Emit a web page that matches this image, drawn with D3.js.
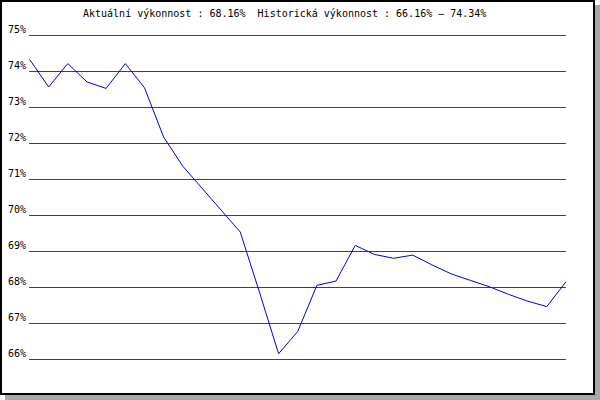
<!DOCTYPE html>
<html>
<head>
<meta charset="utf-8">
<script src="https://cdn.jsdelivr.net/npm/d3@7"></script>
<style>
  body { margin: 0; background: #fff; }
  text { font-family: "DejaVu Sans Mono", monospace; font-size: 10px; fill: #000; }
</style>
</head>
<body>
<div id="chart"></div>
<script>
// data
var periods = d3.range(1, 30);
var performance = [74.34, 73.57, 74.22, 73.71, 73.53, 74.22, 73.55, 72.18, 71.37, 70.76,
                   70.15, 69.54, 67.87, 66.16, 66.78, 68.06, 68.18, 69.17, 68.92, 68.81,
                   68.90, 68.63, 68.38, 68.20, 68.02, 67.81, 67.62, 67.47, 68.16];
var yTicks = [66, 67, 68, 69, 70, 71, 72, 73, 74, 75];
var titleText = "Aktuální výkonnost : 68.16%  Historická výkonnost : 66.16% – 74.34%";

var width = 600, height = 400;

var svg = d3.select("#chart")
    .append("svg")
    .attr("width", width)
    .attr("height", height);

// shadow + frame
svg.append("rect")
    .attr("x", 5).attr("y", 5)
    .attr("width", 595).attr("height", 395)
    .attr("fill", "#a8a8a8");
svg.append("rect")
    .attr("x", 1).attr("y", 1)
    .attr("width", 593).attr("height", 393)
    .attr("fill", "#fff")
    .attr("stroke", "#000")
    .attr("stroke-width", 2);

var x = d3.scalePoint().domain(periods).range([29.5, 566]);
var y = d3.scaleLinear().domain([66, 75]).range([359.5, 35.5]);

// grid lines
svg.selectAll(".grid")
    .data(yTicks)
    .enter().append("line")
    .attr("x1", 29).attr("x2", 566)
    .attr("y1", function (d) { return y(d); })
    .attr("y2", function (d) { return y(d); })
    .attr("stroke", "#dd0000")
    .attr("stroke-width", 1)
    .attr("shape-rendering", "crispEdges");

// tick labels
svg.selectAll(".lbl")
    .data(yTicks)
    .enter().append("text")
    .attr("x", 26)
    .attr("y", function (d) { return y(d) - 3; })
    .attr("text-anchor", "end")
    .text(function (d) { return d + "%"; });

// title
svg.append("text")
    .attr("x", 83).attr("y", 17)
    .attr("xml:space", "preserve")
    .style("white-space", "pre")
    .text(titleText);

// performance line
var line = d3.line()
    .x(function (d, i) { return x(periods[i]); })
    .y(function (d) { return y(d); });

svg.append("path")
    .datum(performance)
    .attr("d", line)
    .attr("fill", "none")
    .attr("stroke", "#0000dd")
    .attr("stroke-width", 1);
</script>
</body>
</html>
